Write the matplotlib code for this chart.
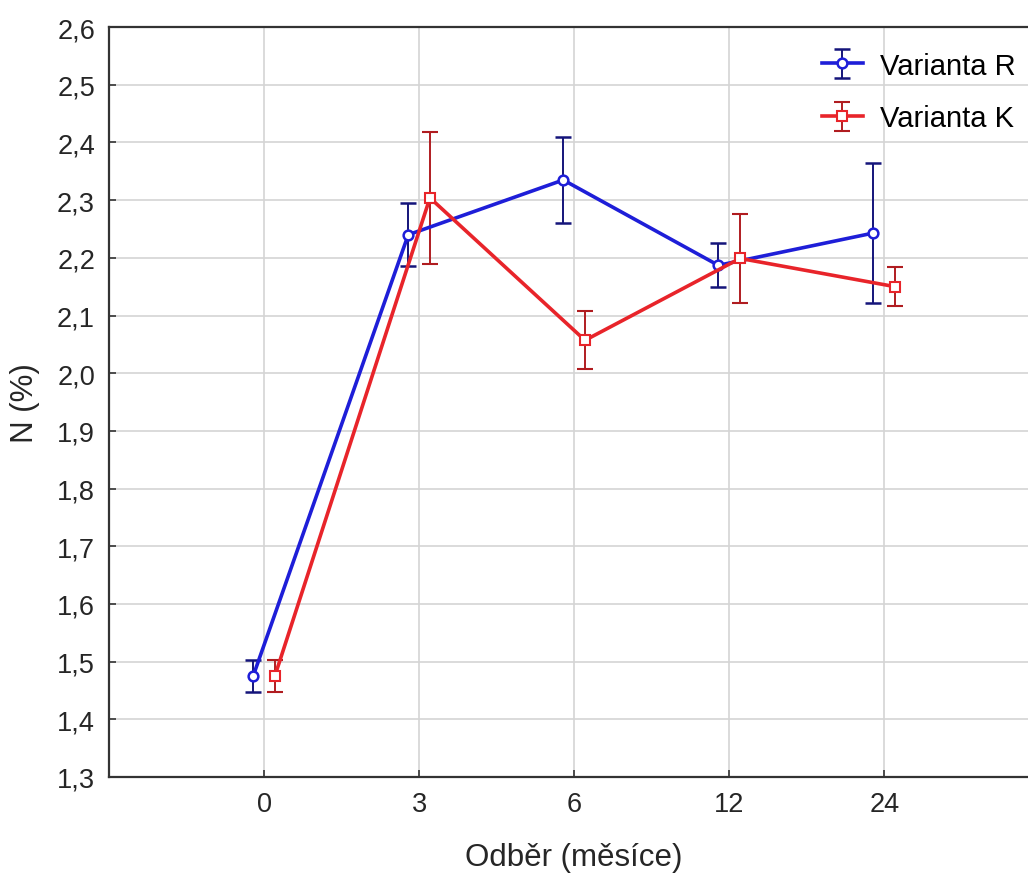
import numpy as np
from matplotlib import pyplot as plt

plt.rcParams['font.family'] = ['Liberation Sans', 'DejaVu Sans']

############
# Entries  #
############

odber = ["0", "3", "6", "12", "24"]

r_mean = [1.475, 2.240, 2.335, 2.187, 2.243]
r_err = [0.027, 0.055, 0.075, 0.038, 0.121]

k_mean = [1.475, 2.304, 2.057, 2.199, 2.150]
k_err = [0.027, 0.115, 0.050, 0.077, 0.034]

##########
# Script #
##########

x = np.arange(len(odber))
shift = 0.07

fig = plt.figure(figsize=(10.28, 8.79), dpi=100)
ax = fig.add_axes([0.106, 0.115, 0.905, 0.853])

ax.errorbar(x - shift, r_mean, yerr=r_err, color="#1e1ed8", lw=2.6,
            marker="o", ms=7, mfc="white", mec="#1e1ed8", mew=1.8,
            ecolor="#14147a", elinewidth=1.4, capsize=6, capthick=1.4,
            label="Varianta R", zorder=3)
ax.errorbar(x + shift, k_mean, yerr=k_err, color="#e8242a", lw=2.6,
            marker="s", ms=7, mfc="white", mec="#e8242a", mew=1.5,
            ecolor="#b01c20", elinewidth=1.4, capsize=6, capthick=1.4,
            label="Varianta K", zorder=3)

ax.set_xlim(-1, 5)
ax.set_ylim(1.3, 2.6)
ax.set_xticks(x)
ax.set_xticklabels(odber)
yt = np.round(np.arange(1.3, 2.61, 0.1), 1)
ax.set_yticks(yt)
ax.set_yticklabels([f"{v:.1f}".replace(".", ",") for v in yt])

ax.grid(True, color="#d4d4d4", lw=1.2, zorder=0)
ax.set_axisbelow(True)
for s in ax.spines.values():
    s.set_color("#333333")
    s.set_linewidth(1.6)
ax.tick_params(direction="in", length=5, width=1.2, labelsize=19.5,
               colors="#333333", labelcolor="#262626", pad=10)

ax.set_xlabel("Odběr (měsíce)", fontsize=22.5, color="#262626", labelpad=18)
ax.set_ylabel("N (%)", fontsize=22.5, color="#262626", labelpad=12)

ax.legend(loc="upper left", bbox_to_anchor=(0.774, 0.97),
          bbox_transform=fig.transFigure, frameon=False, fontsize=21,
          handlelength=1.4, handletextpad=0.6, labelspacing=0.85)

fig.savefig("out.png", dpi=100)
